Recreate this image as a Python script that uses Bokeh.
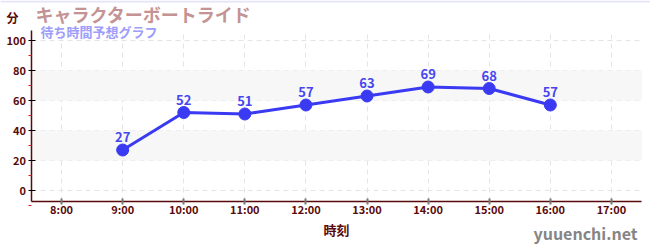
from bokeh.plotting import figure
from bokeh.models import Label, BoxAnnotation, ColumnDataSource, FixedTicker, Range1d
from bokeh.core.properties import value
from bokeh.embed import file_html
from bokeh.resources import INLINE

hours = [9, 10, 11, 12, 13, 14, 15, 16]
waits = [27, 52, 51, 57, 63, 69, 68, 57]
tick_hours = [8, 9, 10, 11, 12, 13, 14, 15, 16, 17]
tick_labels = [f"{h}:00" for h in tick_hours]
y_ticks = [0, 20, 40, 60, 80, 100]
y_minor = [-10, 10, 30, 50, 70, 90]
bands = [(20, 40), (60, 80)]

title_text = "キャラクターボートライド"
subtitle_text = "待ち時間予想グラフ"
y_unit = "分"
x_title = "時刻"
watermark = "yuuenchi.net"

# axis extents (value space) and the full canvas view
X_AXIS = (7.5, 17.5)
Y_AXIS = (-7.33, 106.67)
X_VIEW = (7.0, 17.64)
Y_VIEW = (-40.0, 126.67)

FONT = "Noto Sans CJK JP"
MAROON = "#5a0a0a"

p = figure(width=650, height=250, output_backend="svg", toolbar_location=None,
           x_range=Range1d(*X_VIEW), y_range=Range1d(*Y_VIEW),
           min_border=0, min_border_left=0, min_border_right=0,
           min_border_top=0, min_border_bottom=0)
p.outline_line_color = None

# thin lavender rule along the top edge of the card
p.add_layout(BoxAnnotation(top=0, bottom=2, top_units="canvas", bottom_units="canvas",
                           fill_color="#e4e4fa", fill_alpha=1.0, line_color=None))

for b, t in bands:
    p.add_layout(BoxAnnotation(bottom=b, top=t, left=X_AXIS[0], right=X_AXIS[1],
                               fill_color="#f7f7f7", fill_alpha=1.0,
                               line_color=None, level="underlay"))

src = ColumnDataSource(dict(x=hours, y=waits, lbl=[str(v) for v in waits]))
p.line("x", "y", source=src, line_color="#3a3af2", line_width=3)
p.scatter("x", "y", source=src, size=12, fill_color="#3a3af2", line_color="#3a3af2")
p.text("x", "y", text="lbl", source=src, text_align="center", text_baseline="bottom",
       y_offset=-8, text_font_size="13px", text_font_style="bold", text_color="#4646ee",
       text_font=value(FONT))

xa = p.xaxis[0]
xa.fixed_location = Y_AXIS[0]
xa.bounds = X_AXIS
xa.ticker = FixedTicker(ticks=tick_hours)
xa.major_label_overrides = {h: l for h, l in zip(tick_hours, tick_labels)}
xa.axis_line_color = MAROON
xa.axis_line_width = 1.5
xa.major_tick_line_color = "#777777"
xa.major_tick_line_width = 2
xa.major_tick_in = 3
xa.major_tick_out = 3
xa.minor_tick_line_color = None
xa.major_label_text_color = MAROON
xa.major_label_text_font = FONT
xa.major_label_text_font_size = "11px"
xa.major_label_text_font_style = "bold"
xa.major_label_standoff = -3
xa.axis_label = x_title
xa.axis_label_text_font = FONT
xa.axis_label_text_font_size = "13px"
xa.axis_label_text_font_style = "bold"
xa.axis_label_text_color = MAROON
xa.axis_label_standoff = -1

ya = p.yaxis[0]
ya.fixed_location = X_AXIS[0]
ya.bounds = Y_AXIS
ya.ticker = FixedTicker(ticks=y_ticks, minor_ticks=y_minor)
ya.axis_line_color = MAROON
ya.axis_line_width = 1.5
ya.major_tick_line_color = "black"
ya.major_tick_in = 4
ya.major_tick_out = 3
ya.minor_tick_line_color = "#e02020"
ya.minor_tick_in = 0
ya.minor_tick_out = 3
ya.major_label_text_color = MAROON
ya.major_label_text_font = FONT
ya.major_label_text_font_size = "11px"
ya.major_label_text_font_style = "bold"
ya.major_label_standoff = 2

p.xgrid.ticker = FixedTicker(ticks=tick_hours)
p.ygrid.ticker = FixedTicker(ticks=y_ticks)
xg, yg = p.xgrid[0], p.ygrid[0]
for g in (xg, yg):
    g.grid_line_color = "#e4e4e4"
    g.grid_line_dash = "5 4"
    g.grid_line_width = 1
xg.bounds = X_AXIS
yg.bounds = Y_AXIS
has_cross = "cross_bounds" in xg.properties()
if has_cross:
    xg.cross_bounds = Y_AXIS
    yg.cross_bounds = X_AXIS
else:
    for kw in (dict(bottom=Y_AXIS[1]), dict(top=Y_AXIS[0]), dict(right=X_AXIS[0]), dict(left=X_AXIS[1])):
        p.add_layout(BoxAnnotation(fill_color="white", fill_alpha=1.0, line_color=None,
                                   level="underlay", **kw))

def canvas_label(x, y, text, size, color, bold=True, align="left"):
    p.add_layout(Label(x=x, y=y, x_units="canvas", y_units="canvas", text=text,
                       text_font=FONT, text_font_size=size,
                       text_font_style="bold" if bold else "normal",
                       text_color=color, text_baseline="middle", text_align=align))

canvas_label(12, 17, y_unit, "12px", MAROON, align="center")
canvas_label(35, 13, title_text, "18px", "#c49393")
canvas_label(40, 31, subtitle_text, "13px", "#9d9dfa")
canvas_label(637, 232, watermark, "16px", "#858585", bold=True, align="right")

open("out.html", "w").write(file_html(p, INLINE))
